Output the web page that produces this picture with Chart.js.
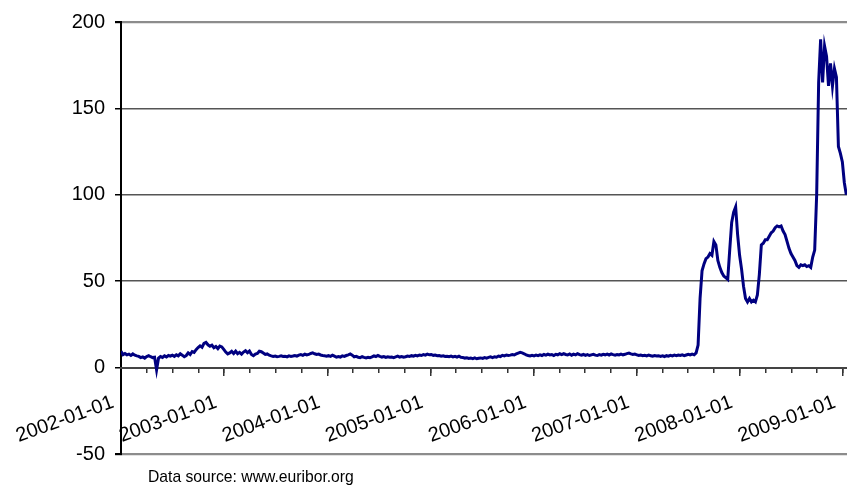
<!DOCTYPE html>
<html>
<head>
<meta charset="utf-8">
<script src="https://cdn.jsdelivr.net/npm/chart.js@4"></script>
<style>
  html, body { margin: 0; padding: 0; background: #fff; }
  #wrap { position: relative; width: 847px; height: 488px; }
  #source { position: absolute; left: 148px; top: 468px; font: 15.7px Arial, "Liberation Sans", sans-serif; color: #000; }
</style>
</head>
<body>
<div id="wrap">
  <canvas id="spreadChart" width="847" height="488"></canvas>
  <div id="source">Data source: www.euribor.org</div>
</div>
<script>
// weekly spread values, one array per year
const startYear = 2002;
const weeksPerYear = 52.18;
const xMax = 2009.04;

const spread2002 = [
  9.5, 7.5, 8.2, 7.4, 7.8, 7.0, 7.9, 7.2, 6.8, 6.5,
  5.8, 6.2, 5.5, 6.4, 6.9, 6.3, 5.8, 6.0, -1.3, 5.5,
  6.4, 5.9, 6.8, 6.2, 7.0, 6.6, 7.2, 6.5, 7.4, 6.8,
  8.0, 7.2, 6.3, 7.0, 8.5, 7.6, 9.3, 8.8, 10.4, 11.6,
  12.6, 11.8, 14.0, 14.6, 13.2, 12.4, 13.0, 11.5, 12.2, 11.0,
  12.5, 12.0
];
const spread2003 = [
  10.5, 9.0, 7.9, 8.5, 9.4, 8.2, 9.5, 8.0, 8.8, 7.8,
  9.0, 9.8, 8.6, 9.6, 7.6, 6.9, 7.8, 8.2, 9.5, 9.2,
  8.4, 7.6, 7.9, 7.2, 6.8, 6.5, 6.7, 6.3, 6.5, 6.8,
  6.4, 6.6, 6.2, 6.8, 6.5, 6.7, 7.0, 6.6, 7.2, 7.5,
  7.1, 7.8, 7.3, 7.6, 8.2, 8.5, 8.0, 7.6, 7.8, 7.3,
  7.0, 6.8
];
const spread2004 = [
  6.6, 6.9, 6.5, 7.2, 6.6, 6.0, 6.4, 6.1, 6.8, 6.5,
  7.0, 7.4, 7.9, 7.2, 6.2, 6.5, 6.0, 5.8, 6.3, 5.9,
  5.6, 6.0, 5.7, 6.2, 6.8, 6.4, 7.0, 6.5, 6.1, 6.4,
  5.9, 6.3, 6.0, 6.1, 5.8, 6.2, 6.6, 6.1, 6.4, 6.0,
  6.3, 6.7, 6.5, 6.9, 6.6, 7.1, 6.8, 7.3, 7.0, 7.5,
  7.2, 7.8
];
const spread2005 = [
  7.4, 7.6, 7.1, 7.3, 6.9, 7.0, 6.6, 6.8, 6.4, 6.6,
  6.3, 6.7, 6.2, 6.5, 6.1, 6.6, 6.0, 5.8, 5.5, 5.7,
  5.3, 5.5, 5.2, 5.6, 5.1, 5.4, 5.6, 5.3, 5.8, 5.5,
  5.9, 6.2, 5.8, 6.3, 6.0, 6.7, 6.4, 7.1, 6.8, 7.3,
  7.0, 7.2, 7.6, 7.3, 7.9, 8.4, 8.8, 8.5, 8.0, 7.4,
  7.0, 6.7
];
const spread2006 = [
  7.1, 6.8, 7.2, 6.9, 7.4, 7.0, 7.6, 7.2, 7.8, 7.3,
  7.5, 7.0, 7.7, 7.4, 8.0, 7.5, 8.1, 7.6, 7.3, 7.9,
  7.2, 7.8, 7.4, 8.1, 7.5, 7.2, 7.6, 7.1, 7.5, 7.0,
  7.4, 7.7, 7.2, 7.0, 7.5, 7.2, 7.7, 7.4, 7.8, 7.3,
  7.9, 7.5, 7.2, 7.6, 7.3, 7.8, 7.4, 7.7, 8.1, 8.4,
  7.9, 7.6
];
const spread2007 = [
  7.8, 7.4, 7.0, 7.3, 6.9, 7.1, 6.8, 7.2, 6.9, 6.6,
  7.0, 6.7, 6.9, 6.5, 6.8, 6.4, 6.9, 6.6, 7.1, 6.8,
  7.2, 6.9, 7.3, 7.0, 7.4, 6.9, 7.3, 7.7, 7.3, 7.8,
  7.4, 8.5, 13, 40, 56, 60, 63, 64, 66, 65,
  73, 71, 62, 58, 55, 53, 52, 51, 68, 84,
  90, 93
];
const spread2008 = [
  77, 65, 57, 47, 40, 38, 40, 38, 39, 38,
  42, 54, 71, 72, 74, 74, 76, 78, 79, 81,
  82, 81.5, 82, 79, 77, 73, 69, 66, 64, 62,
  59, 58, 59.5, 59, 59.5, 58.5, 59, 58, 64, 68,
  100, 165, 190, 165, 186, 180, 163, 176, 163, 173,
  168, 128, 124, 119, 107, 100
];

const yTicks = [-50, 0, 50, 100, 150, 200];

const weekly = [].concat(spread2002, spread2003, spread2004, spread2005, spread2006, spread2007, spread2008);
const points = weekly.map((v, i) => ({ x: startYear + i / weeksPerYear, y: v }));

const labelFont = { family: 'Arial, "Liberation Sans", sans-serif', size: 20 };

// rotated date labels should not shrink the plot area
const noSidePadding = (scale) => { scale.paddingLeft = 0; scale.paddingRight = 0; };

const ctx = document.getElementById('spreadChart').getContext('2d');
new Chart(ctx, {
  type: 'line',
  data: {
    datasets: [{
      data: points,
      borderColor: '#000080',
      borderWidth: 3,
      pointRadius: 0,
      tension: 0,
      fill: false
    }]
  },
  options: {
    responsive: false,
    animation: false,
    parsing: false,
    layout: { padding: { left: 0, top: 18, right: 0, bottom: 34 } },
    plugins: { legend: { display: false }, tooltip: { enabled: false } },
    scales: {
      y: {
        min: yTicks[0],
        max: yTicks[yTicks.length - 1],
        afterFit: (scale) => { scale.width = 121; },
        border: { color: '#000', width: 2 },
        grid: {
          color: (c) => {
            const v = c.tick.value;
            if (v === 200 || v === -50) return '#8c8c8c';
            if (v === 0) return '#444';
            return '#555';
          },
          lineWidth: (c) => (c.tick.value === 200 || c.tick.value === -50) ? 2.2 : 1.5,
          tickColor: '#000',
          tickLength: 6
        },
        ticks: { stepSize: 50, color: '#000', font: labelFont, padding: 10 }
      },
      x: {
        type: 'linear',
        position: { y: 0 },
        min: startYear,
        max: xMax,
        afterFit: noSidePadding,
        border: { color: '#444', width: 2 },
        grid: { drawOnChartArea: false, tickLength: 7, color: '#333', lineWidth: 1.5 },
        ticks: {
          stepSize: 1,
          includeBounds: false,
          autoSkip: false,
          minRotation: 20,
          maxRotation: 20,
          padding: 16,
          labelOffset: -8,
          color: '#000',
          font: labelFont,
          callback: (v) => Math.abs(v - Math.round(v)) < 1e-6 ? Math.round(v) + '-01-01' : ''
        }
      },
      xMinor: {
        type: 'linear',
        axis: 'x',
        position: { y: 0 },
        min: startYear,
        max: xMax,
        afterFit: noSidePadding,
        border: { display: false },
        grid: { drawOnChartArea: false, tickLength: 5, color: '#333', lineWidth: 1.5 },
        ticks: { stepSize: 0.25, includeBounds: false, autoSkip: false, callback: () => '' }
      }
    }
  }
});
</script>
</body>
</html>
